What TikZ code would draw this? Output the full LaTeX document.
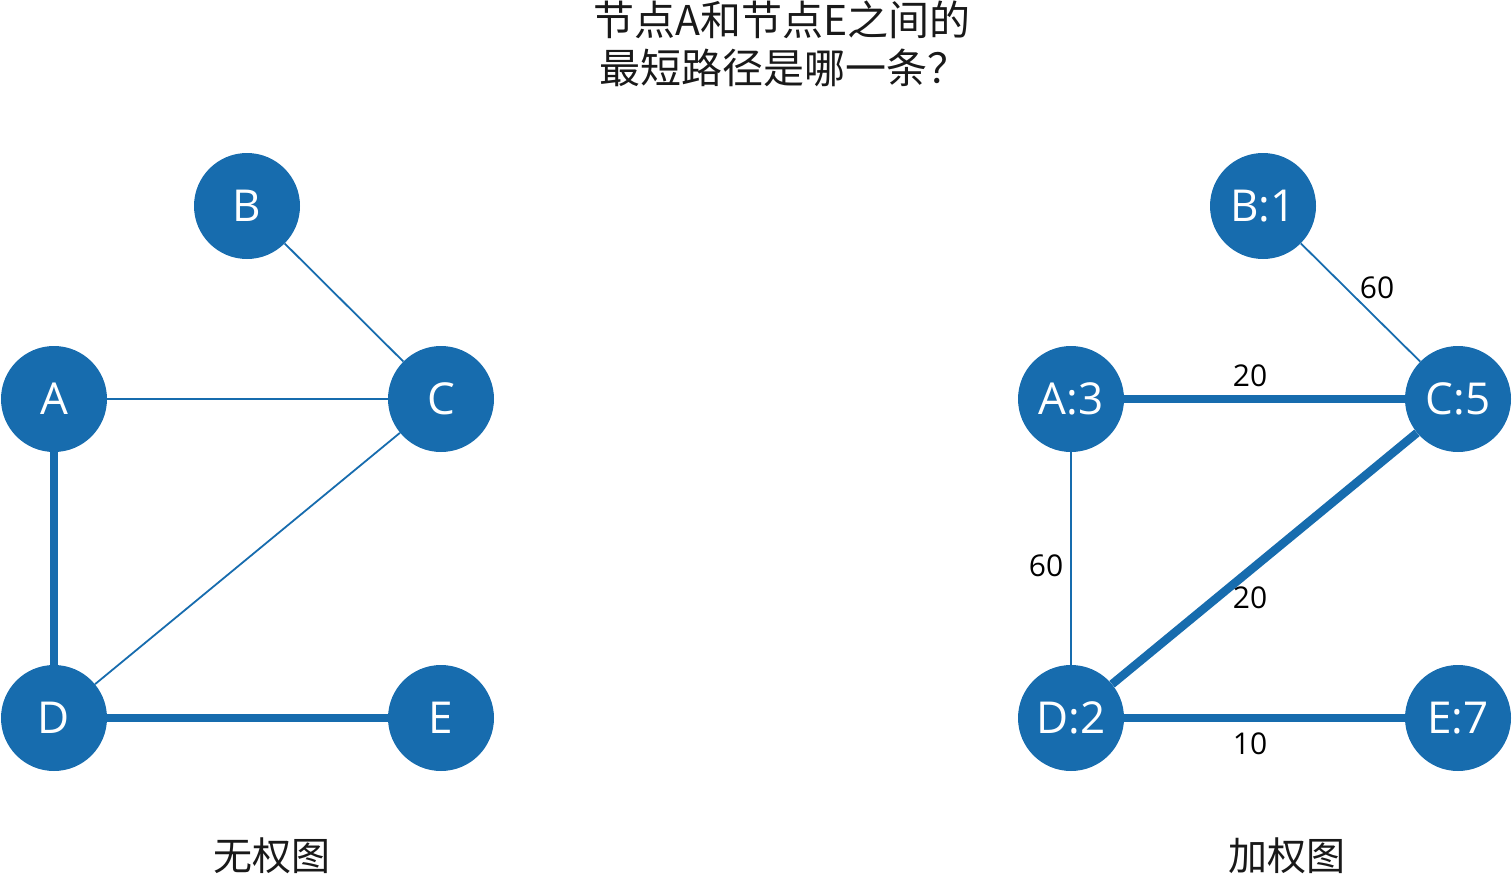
\documentclass[tikz,border=0pt]{standalone}
\usepackage{fontspec}
\setmainfont{Open Sans}
\newfontfamily\cjkfont{Noto Sans CJK SC}
\usetikzlibrary{positioning}
\definecolor{nodeblue}{RGB}{23,108,174}

\begin{document}
\begin{tikzpicture}[
        x=1pt, y=-1pt,
        vertex/.style={
            circle,
            fill=nodeblue,
            draw=none,
            minimum size=106pt,
            inner sep=0pt,
            text=white,
            font=\fontsize{44}{44}\selectfont
        },
        thinedge/.style={draw=nodeblue, line width=1.8pt},
        thickedge/.style={draw=nodeblue, line width=8.5pt},
        weight/.style={font=\fontsize{30}{30}\selectfont, text=black, inner sep=0pt},
        caption/.style={font=\cjkfont\fontsize{39}{39}\selectfont, text=black!90, inner sep=0pt}
    ]
        \useasboundingbox (0,0) rectangle (1512,875);

        % Title
        \node[caption, font=\cjkfont\fontsize{41}{48}\selectfont, align=left, anchor=west] (title)
            at (593,44) {节点A和节点E之间的\\\hspace*{6pt}最短路径是哪一条？};

        % Unweighted graph
        \node[vertex] (b) at (247,206) {B};
        \node[vertex] (a) at (54,399) {A};
        \node[vertex] (c) at (441,399) {C};
        \node[vertex] (d) at (54,718) {D};
        \node[vertex] (e) at (441,718) {E};

        \draw[thinedge] (b) -- (c);
        \draw[thinedge] (a) -- (c);
        \draw[thinedge] (c) -- (d);
        \draw[thickedge] (a) -- (d);
        \draw[thickedge] (d) -- (e);

        \node[caption] (unweighted) at (272,856) {无权图};

        % Weighted graph
        \node[vertex] (wb) at (1263,206) {B:1};
        \node[vertex] (wa) at (1071,399) {A:3};
        \node[vertex] (wc) at (1458,399) {C:5};
        \node[vertex] (wd) at (1071,718) {D:2};
        \node[vertex] (we) at (1458,718) {E:7};

        \draw[thinedge] (wb) -- (wc);
        \draw[thickedge] (wa) -- (wc);
        \draw[thinedge] (wa) -- (wd);
        \draw[thickedge] (wc) -- (wd);
        \draw[thickedge] (wd) -- (we);

        \node[weight] (wbc) at (1377,288) {60};
        \node[weight] (wac) at (1250,376) {20};
        \node[weight] (wad) at (1046,566) {60};
        \node[weight] (wcd) at (1250,598) {20};
        \node[weight] (wde) at (1250,744) {10};

        \node[caption] (weighted) at (1287,856) {加权图};
    \end{tikzpicture}
\end{document}
